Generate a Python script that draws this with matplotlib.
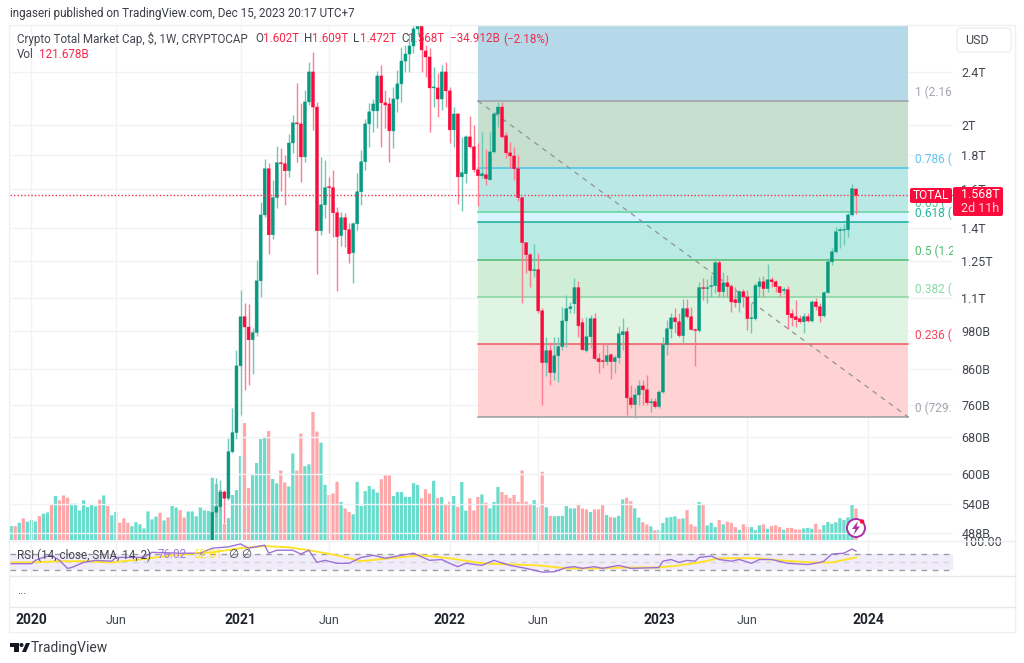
import matplotlib
matplotlib.use('Agg')
import matplotlib.pyplot as plt
import matplotlib.patches as mpatches
import pandas as pd

# weekly bars, first one Dec 2 2019
weeks = pd.date_range('2019-12-02', periods=211, freq='7D')

# candles only reach the visible price range from week 50 on ($B)
candle_start = 50
opens = [470,525,535,563,551,647,691,870,1031,995,
         952,976,1167,1465,1718,1368,1555,1754,1748,1706,
         1878,2013,2006,1790,2164,2400,2126,1387,1517,1615,
         1609,1476,1364,1451,1392,1286,1421,1587,1760,2006,
         2098,2098,2367,2157,2149,1958,2186,2303,2492,2553,
         2625,2784,2822,2580,2527,2271,2271,2186,2400,2248,
         1965,2076,1671,1689,1918,1853,1712,1677,1683,1654,
         1821,2076,2126,1925,1815,1796,1718,1555,1331,1277,
         1209,1213,1052,880,917,850,901,930,1016,1060,
         1078,1140,1010,917,962,1024,892,886,883,904,
         883,895,969,979,779,761,787,812,801,766,
         769,756,795,936,989,1027,1013,966,1060,1031,
         986,983,1140,1136,1144,1148,1242,1124,1159,1144,
         1093,1082,1124,1104,1024,1024,1144,1163,1136,1171,
         1163,1144,1128,1132,1042,1031,1024,1013,1031,1016,
         1085,1067,1034,1120,1246,1290,1387,1390,1392,1465,
         1602]
closes = [525,535,563,551,647,691,870,1031,995,952,
          976,1167,1465,1718,1368,1555,1754,1748,1706,1878,
          2013,2006,1790,2164,2400,2126,1387,1517,1609,1609,
          1476,1359,1451,1392,1281,1421,1587,1760,2006,2091,
          2149,2367,2157,2141,1958,2186,2303,2492,2553,2625,
          2784,2822,2589,2527,2271,2279,2186,2400,2248,1965,
          2076,1671,1695,1918,1853,1712,1677,1689,1660,1821,
          2076,2126,1918,1815,1796,1718,1555,1331,1277,1209,
          1213,1052,880,917,850,901,930,1016,1060,1067,
          1140,999,920,962,1024,892,883,883,901,883,
          895,972,979,779,761,787,812,801,766,769,
          756,795,936,989,1027,1013,966,1060,1031,986,
          983,1140,1136,1140,1148,1242,1124,1159,1144,1085,
          1082,1124,1104,1024,1027,1148,1163,1136,1171,1163,
          1144,1120,1132,1038,1027,1020,1013,1031,1016,1085,
          1067,1034,1120,1246,1290,1382,1392,1394,1465,1604,
          1568]
highs = [542,591,587,567,679,753,920,1132,1082,1079,
         992,1255,1533,1778,1754,1654,1859,1847,1803,1938,
         2069,2311,2157,2256,2484,2571,2164,1790,1772,1671,
         1712,1507,1481,1476,1426,1431,1695,1834,2041,2157,
         2186,2409,2459,2256,2201,2279,2417,2616,2634,2727,
         2831,2850,2880,2634,2607,2442,2392,2459,2484,2279,
         2126,2083,1918,1931,2062,2000,1878,1951,1840,1951,
         2091,2164,2164,1951,1885,1853,1803,1560,1336,1286,
         1327,1286,1063,962,945,962,962,1067,1110,1085,
         1180,1167,1027,1031,1038,1045,911,939,939,911,
         904,999,1027,996,815,807,829,829,844,779,
         779,801,962,1020,1045,1063,1045,1097,1097,1067,
         992,1163,1180,1175,1192,1264,1255,1204,1192,1155,
         1144,1132,1136,1132,1082,1159,1184,1188,1238,1184,
         1171,1148,1144,1148,1060,1093,1038,1045,1045,1093,
         1100,1082,1128,1264,1308,1406,1406,1421,1476,1631,
         1609]
lows = [460,516,525,506,548,644,676,735,801,815,
        847,966,1104,1456,1281,1350,1501,1592,1517,1671,
        1815,1760,1643,1760,2141,1965,1196,1368,1451,1378,
        1359,1128,1317,1313,1242,1159,1392,1517,1712,1853,
        1951,1978,1853,1978,1760,1847,2091,2164,2400,2400,
        2562,2727,2400,2359,1951,2126,2055,2105,2126,1878,
        1853,1523,1486,1637,1847,1700,1512,1665,1626,1650,
        1815,1985,1912,1784,1724,1654,1539,1082,1200,1144,
        1184,1045,761,841,815,829,823,920,930,1045,
        1045,962,920,914,927,889,850,865,874,832,
        850,880,920,735,753,727,761,761,761,743,
        753,753,793,904,959,976,962,936,1028,984,
        870,979,1093,1082,1104,1120,1104,1104,1104,1049,
        1067,1049,1067,986,976,1020,1104,1104,1124,1144,
        1124,1104,1116,989,999,996,1010,976,1013,1013,
        1056,1013,1030,1120,1234,1286,1308,1322,1359,1460,
        1472]

# volume, $B
volumes = [54,54,67,84,71,78,72,93,102,107,136,171,154,173,164,141,141,115,154,128,
           138,131,157,173,132,96,109,67,84,67,54,69,61,45,111,80,91,106,76,88,
           132,126,116,87,111,111,92,126,115,113,242,217,194,62,85,175,194,326,454,202,
           252,299,392,401,423,237,220,270,223,208,336,270,413,287,294,497,421,378,214,175,
           181,226,148,123,109,100,226,132,190,210,197,184,236,251,251,171,186,186,168,167,
           221,214,162,197,180,230,163,167,136,149,171,129,225,114,162,115,167,177,145,123,
           148,206,186,175,163,175,148,270,149,138,155,127,265,127,94,92,93,94,132,123,
           123,140,122,119,109,119,119,136,97,89,87,94,158,164,151,123,87,69,60,53,
           38,39,66,87,89,92,82,84,116,61,52,148,138,57,67,50,78,61,71,66,
           50,39,61,50,50,38,57,61,44,54,57,50,40,47,47,41,40,45,47,44,
           63,41,58,70,63,69,85,78,88,138,122]
volume_dirs = list('GRGRGGGRGG' 'RGRRRGGGGG' 'GGRGRGGRRR' 'GGGGGGGRGR' 'GGRRGGGGGG'
                   'GGGRGGGGRR' 'GGGGRGGRRG' 'GRRGGRRGGR' 'RRGRRGGGGG' 'GGRRRGGGGG'
                   'GGRRRGRGRR' 'GRGGRRRGRG' 'GGRRRRRRRR' 'GRRGRGGGGG' 'GRRRGRRRGR'
                   'GGGRRGGRRG' 'RGGGGGRGRR' 'RGRGGGRGRR' 'RGRRGGGRGR' 'RRGRRRRGGG'
                   'RRGGGGGGGG' 'R')

# RSI panel, sampled along the line
rsi_weeks = [0,2,5,6,8,10,12,14,15,18,21,25,26,30,33,35,42,47,50,54,57,59,63,64,66,70,72,74,76,78,
             81,84,87,90,93,97,100,104,107,109,111,113,117,120,124,128,132,135,138,140,142,145,147,
             151,154,161,162,164,166,168,170,171,174,176,179,181,184,186,189,193,198,201,202,204,207,209,210]
rsi_values = [46,46,46,54,61,66,54,35,37,49,54,52,61,61,61,73,71,71,83,86,93,83,90,71,78,78,69,78,49,54,
              47,47,61,66,59,66,71,54,56,47,39,47,42,54,42,35,26,27,37,39,35,39,35,
              42,35,37,52,56,49,54,52,61,64,56,52,56,47,56,56,47,44,49,52,69,71,81,76]
sma_weeks = [0,5,12,18,25,32,40,50,57,63,69,74,81,87,94,102,109,117,125,131,138,145,152,161,166,171,176,185,191,199,204,210]
sma_values = [49,49,52,52,49,56,66,73,83,88,85,78,66,52,59,66,59,47,44,42,35,35,37,37,42,49,59,59,54,49,49,61]

price_ticks = [2400,2000,1800,1600,1400,1250,1100,980,860,760,680,600,540,488]
price_labels = ['2.4T','2T','1.8T','1.6T','1.4T','1.25T','1.1T','980B','860B','760B','680B','600B','540B','488B']

time_ticks = ['2020-01-06','2020-06-01','2021-01-04','2021-06-07','2022-01-03','2022-06-06','2023-01-02','2023-06-05','2024-01-01']
time_labels = ['2020','Jun','2021','Jun','2022','Jun','2023','Jun','2024']

# fib retracement tool, labels cut off by the price scale as in the picture
fib_start = pd.Timestamp('2022-02-21')
fib_end = pd.Timestamp('2024-03-11')
fib_prices = [2172,1724,1481,1431,1255,1103,939,729]
fib_names = ['1 (2.16','0.786 (','0.65 (','0.618 (','0.5 (1.2','0.382 (','0.236 (','0 (729.']
fib_line_colors = ['#9b9ea6','#45c3ee','#62d39b','#17ad9b','#4fba6f','#87d3a3','#f6565f','#9a9da4']
fib_text_colors = ['#a3a6af','#62c4f2','#4cc48f','#1fb59c','#4fba6f','#8ad9ab','#f6455a','#a3a6af']
fib_fills = ['#c6dfcf','#bae8e4','#d6f3fe','#b9eae4','#d0eed6','#e0f4e3','#ffd2d3']
fib_top_fill = '#b5d9e8'

W, H = 1024, 663
UP, DOWN = '#089981', '#fb0a3c'
UP_W, DOWN_W = '#6fc9b6', '#ff7d93'
GRID = '#f2f3f7'
LINE = '#e6e8ef'
TEXT = '#42464f'
FS = 8.4

def box(l, t, r, b):
    return [l/W, 1-b/H, (r-l)/W, (b-t)/H]

plt.rcParams['font.family'] = ['Roboto', 'DejaVu Sans']
fig = plt.figure(figsize=(W/100, H/100), dpi=100, facecolor='white')

xl = (pd.Timestamp('2019-11-29 22:00'), pd.Timestamp('2024-05-27 18:00'))
tdates = pd.to_datetime(time_ticks)

# volume sits under the candles
ax_v = fig.add_axes(box(10, 25, 953, 540), zorder=1)
v_cols = ['#6adccc' if d == 'G' else '#ffa6a9' for d in volume_dirs]
v_bars = ax_v.bar(weeks, volumes, width=5.6, color=v_cols, linewidth=0)
for p in v_bars:
    p.set_snap(False)
ax_v.set_xlim(xl)
ax_v.set_ylim(0, 2000)
ax_v.axis('off')

ax = fig.add_axes(box(10, 25, 953, 540), zorder=2, facecolor='none')
ax.set_yscale('log')
ax.set_xlim(xl)
ax.set_ylim(477, 2822)
ax.yaxis.tick_right()
ax.yaxis.set_major_locator(plt.FixedLocator(price_ticks))
ax.yaxis.set_major_formatter(plt.FixedFormatter(price_labels))
ax.yaxis.set_minor_locator(plt.NullLocator())
ax.set_xticks(tdates)
ax.tick_params(axis='x', length=0, labelbottom=False)
ax.tick_params(axis='y', length=0, pad=6, labelsize=9, labelcolor=TEXT)
ax.grid(True, color=GRID, lw=1, zorder=0)
ax.set_axisbelow(True)
for s in ax.spines.values():
    s.set_visible(False)

# fib zones
ax.fill_between([fib_start, fib_end], fib_prices[0], 2822, color=fib_top_fill, lw=0, zorder=1)
for i in range(len(fib_fills)):
    ax.fill_between([fib_start, fib_end], fib_prices[i+1], fib_prices[i], color=fib_fills[i], lw=0, zorder=1)
for i in range(len(fib_prices)):
    ax.plot([fib_start, fib_end], [fib_prices[i], fib_prices[i]], color=fib_line_colors[i], lw=1.1, zorder=2)
    ax.annotate(fib_names[i], (pd.Timestamp('2024-03-23'), fib_prices[i]), xytext=(0, 6), textcoords='offset points',
                color=fib_text_colors[i], fontsize=8.6, va='center', clip_on=True, zorder=6, annotation_clip=False)
ax.plot([fib_start, fib_end], [fib_prices[0], fib_prices[-1]], color='#8f9299', lw=0.9, ls=(0, (4, 4)), zorder=2)

# candles
cw = weeks[candle_start:]
for d, o, h, l, c in zip(cw, opens, highs, lows, closes):
    up = c >= o
    ax.vlines(d, l, h, color=UP_W if up else DOWN_W, lw=1.0, zorder=3)
    body = ax.bar(d, abs(c-o), bottom=min(o, c), width=5.2, color=UP if up else DOWN, lw=0.3,
                  edgecolor=UP if up else DOWN, zorder=4)
    body[0].set_snap(False)

ax.axhline(closes[-1], color='#f5314f', lw=1.0, ls=(0, (1, 1.5)), zorder=5)

# RSI pane
ax_r = fig.add_axes(box(10, 541, 953, 575.5), zorder=2)
ax_r.set_xlim(xl)
ax_r.set_ylim(18, 100)
ax_r.set_xticks(tdates)
ax_r.tick_params(axis='x', length=0, labelbottom=False)
ax_r.yaxis.tick_right()
ax_r.set_yticks([100])
ax_r.set_yticklabels(['100.00'])
ax_r.tick_params(axis='y', length=0, pad=7, labelsize=9, labelcolor=TEXT)
ax_r.grid(True, axis='x', color=GRID, lw=1)
ax_r.set_axisbelow(True)
ax_r.axhspan(30, 70, color='#f1ecf9', lw=0, zorder=1)
ax_r.axhline(70, color='#9a9da4', lw=1, ls=(0, (4, 4)), zorder=2)
ax_r.axhline(50, color='#d5d6dc', lw=1, ls=(0, (4, 4)), zorder=2)
ax_r.axhline(30, color='#9a9da4', lw=1, ls=(0, (4, 4)), zorder=2)
ax_r.plot(weeks[sma_weeks], sma_values, color='#ffe22e', lw=1.4, zorder=3)
ax_r.plot(weeks[rsi_weeks], rsi_values, color='#9d72d8', lw=1.0, zorder=4)
for s in ax_r.spines.values():
    s.set_visible(False)

# time axis
ax_t = fig.add_axes(box(10, 607, 953, 631), zorder=2, facecolor='none')
ax_t.set_xlim(xl)
ax_t.set_ylim(0, 1)
ax_t.set_yticks([])
ax_t.set_xticks(tdates)
ax_t.set_xticklabels(time_labels)
ax_t.tick_params(axis='x', length=0, pad=-12.6, labelsize=9, labelcolor=TEXT)
for lab, txt in zip(ax_t.get_xticklabels(), time_labels):
    if txt != 'Jun':
        lab.set_fontweight('bold')
        lab.set_fontsize(10)
        lab.set_color('#20232b')
for s in ax_t.spines.values():
    s.set_visible(False)

# page furniture, in pixel coordinates
ov = fig.add_axes([0, 0, 1, 1], zorder=5, facecolor='none')
ov.set_xlim(0, W)
ov.set_ylim(H, 0)
ov.axis('off')

ov.add_patch(mpatches.Rectangle((9, 25), 1006, 607, fill=False, ec='#eef0f4', lw=1))
ov.plot([10, 1015], [540.5, 540.5], color='#edeff4', lw=1)
ov.plot([10, 1015], [575.5, 575.5], color=LINE, lw=1)
ov.plot([10, 1015], [606.5, 606.5], color=LINE, lw=1)

ov.text(10, 14, 'ingaseri published on TradingView.com, Dec 15, 2023 20:17 UTC+7', fontsize=FS, color='#3a3d45', va='center')
ov.text(17, 39, 'Crypto Total Market Cap, $, 1W, CRYPTOCAP', fontsize=FS, color=TEXT, va='center')
red = '#f7284b'
for x, s, col in [(255, 'O', TEXT), (263, '1.602T', red), (304, 'H', TEXT), (312, '1.609T', red),
                  (353, 'L', TEXT), (360, '1.472T', red), (401, 'C', TEXT), (408, '1.568T', red),
                  (450, '−34.912B', red), (503, '(−2.18%)', red)]:
    ov.text(x, 39, s, fontsize=FS, color=col, va='center')
ov.text(17, 55, 'Vol', fontsize=FS, color=TEXT, va='center')
ov.text(39, 55, '121.678B', fontsize=FS, color=red, va='center')

ov.text(17, 555, 'RSI (14, close, SMA, 14, 2)', fontsize=FS, color=TEXT, va='center')
ov.text(158, 555, '76.02', fontsize=FS, color='#a27bdc', va='center')
ov.text(193, 555, '62.01', fontsize=FS, color='#ffe22e', va='center')
ov.text(228, 555, '∅', fontsize=FS, color=TEXT, va='center')
ov.text(241, 555, '∅', fontsize=FS, color=TEXT, va='center')
ov.text(17, 591, '...', fontsize=FS, color=TEXT, va='center')

# USD button
ov.add_patch(mpatches.FancyBboxPatch((957, 28), 54, 24, boxstyle='round,pad=0,rounding_size=4', fc='white', ec='#eef0f4', lw=1))
ov.text(965, 40, 'USD', fontsize=9, color=TEXT, va='center')

# last price tags
ov.add_patch(mpatches.FancyBboxPatch((910, 188), 42, 15, boxstyle='round,pad=0,rounding_size=2', fc=DOWN, ec='none'))
ov.text(931, 195.5, 'TOTAL', fontsize=8.6, color='white', ha='center', va='center')
ov.add_patch(mpatches.FancyBboxPatch((953, 187), 50, 29, boxstyle='round,pad=0,rounding_size=2', fc=DOWN, ec='none'))
ov.text(961, 195, '1.568T', fontsize=9, color='white', va='center')
ov.text(961, 208, '2d 11h', fontsize=9, color='#ffd4dc', va='center')

# lightning badge
ov.add_patch(mpatches.Circle((856, 528), 9, fc='white', ec='#ad2fa6', lw=1.4))
ov.add_patch(mpatches.Polygon([(858, 521), (852, 529), (855.5, 529), (853.5, 535), (860, 526.5), (856.5, 526.5)], fc='#ad2fa6', ec='none'))
ov.add_patch(mpatches.Circle((862, 521.5), 2.2, fc='#fb0a3c', ec='none'))

# TradingView logo
ov.add_patch(mpatches.Polygon([(10, 643), (19, 643), (19, 652), (14, 652), (14, 647), (10, 647)], fc='#131722', ec='none'))
ov.add_patch(mpatches.Circle((21.5, 645), 2, fc='#131722', ec='none'))
ov.add_patch(mpatches.Polygon([(22, 652), (26, 643), (30, 643), (26, 652)], fc='#131722', ec='none'))
ov.text(31, 648, 'TradingView', fontsize=10, color='#3a3d45', va='center')

fig.savefig('out.png', dpi=100, facecolor='white')
